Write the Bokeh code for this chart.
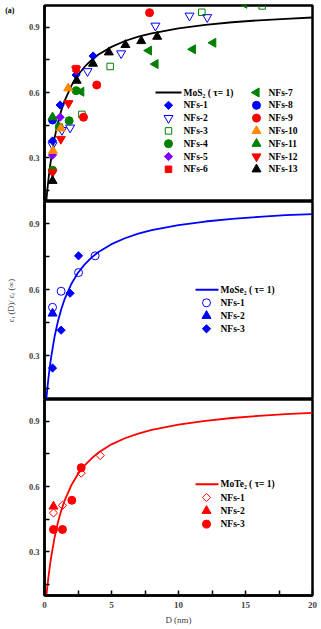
import numpy as np
from bokeh.plotting import figure
from bokeh.layouts import column
from bokeh.models import FixedTicker, LinearAxis, Range1d
from bokeh.core.properties import value
from bokeh.embed import file_html
from bokeh.resources import INLINE

# ---------------- data ----------------
y_ticks = [0.15, 0.3, 0.45, 0.6, 0.75, 0.9]
y_tick_labels = ["", "0.3", "", "0.6", "", "0.9"]
x_ticks = [0, 2.5, 5, 7.5, 10, 12.5, 15, 17.5, 20]
x_tick_labels = ["0", "", "5", "", "10", "", "15", "", "20"]

curve_D = [0.0, 0.1, 0.2, 0.3, 0.4, 0.5, 0.75, 1.0, 1.25, 1.5, 2.0, 2.5, 3.0, 3.5,
           4.0, 5.0, 6.0, 7.0, 8.0, 10.0, 12.0, 14.0, 16.0, 18.0, 20.0]
mos2_curve = [0.0, 0.079, 0.146, 0.204, 0.255, 0.299, 0.391, 0.461, 0.517, 0.562, 0.631,
              0.681, 0.719, 0.749, 0.774, 0.810, 0.837, 0.857, 0.872, 0.895, 0.911,
              0.923, 0.932, 0.939, 0.945]
mose2_curve = [0.0, 0.077, 0.143, 0.200, 0.250, 0.294, 0.385, 0.455, 0.510, 0.556, 0.625,
               0.676, 0.714, 0.745, 0.769, 0.806, 0.833, 0.854, 0.870, 0.893, 0.909,
               0.921, 0.930, 0.938, 0.943]
mote2_curve = [0.0, 0.071, 0.133, 0.188, 0.235, 0.278, 0.366, 0.435, 0.490, 0.536, 0.606,
               0.658, 0.698, 0.729, 0.755, 0.794, 0.822, 0.843, 0.860, 0.885, 0.902,
               0.915, 0.925, 0.933, 0.939]

# MoS2 panel
nfs1_D = [0.6, 1.17, 2.36, 3.63];  nfs1_v = [0.378, 0.543, 0.681, 0.768]
nfs2_D = [0.6, 1.3, 1.91, 3.21, 5.72, 8.28, 10.82, 12.14]
nfs2_v = [0.36, 0.428, 0.439, 0.698, 0.78, 0.907, 0.953, 0.946]
nfs3_D = [2.79, 4.9, 11.74, 16.24];  nfs3_v = [0.50, 0.72, 0.969, 0.998]
nfs4_D = [0.6, 1.1, 1.84, 2.36];  nfs4_v = [0.244, 0.443, 0.471, 0.609]
nfs5_D = [0.6, 1.17];  nfs5_v = [0.313, 0.487]
nfs6_D = [2.36];  nfs6_v = [0.71]
nfs7_D = [2.74, 7.79, 8.28, 11.07, 12.59, 14.9]
nfs7_v = [0.604, 0.793, 0.731, 0.799, 0.829, 1.008]
nfs8_D = [0.6];  nfs8_v = [0.474]
nfs9_D = [2.91, 3.9, 7.84];  nfs9_v = [0.487, 0.635, 0.967]
nfs10_D = [0.63, 1.22, 1.77];  nfs10_v = [0.333, 0.436, 0.62]
nfs11_D = [0.6];  nfs11_v = [0.487]
nfs12_D = [0.6, 1.22, 1.79, 2.36];  nfs12_v = [0.234, 0.387, 0.551, 0.707]
nfs13_D = [0.6, 2.4, 3.62, 4.8, 6.04, 7.22, 8.41]
nfs13_v = [0.195, 0.655, 0.733, 0.785, 0.819, 0.837, 0.857]

# MoSe2 panel
se1_D = [0.6, 1.24, 2.54, 3.78];  se1_v = [0.519, 0.592, 0.677, 0.753]
se2_D = [0.6];  se2_v = [0.491]
se3_D = [0.6, 1.24, 1.91, 2.54];  se3_v = [0.243, 0.415, 0.583, 0.753]

# MoTe2 panel
te1_D = [0.67, 1.34, 2.74, 4.16];  te1_v = [0.479, 0.514, 0.662, 0.743]
te2_D = [0.67];  te2_v = [0.509]
te3_D = [0.67, 1.34, 2.04, 2.74];  te3_v = [0.403, 0.403, 0.537, 0.687]

# ---------------- styling ----------------
FONT = "Liberation Serif"
BLUE, GREEN, RED = "#0000FF", "#008000", "#FF0000"
ORANGE, PURPLE, BLACK = "#FF8800", "#8000FF", "#000000"

MK = {
    "diamond": ("square", 5.8, np.pi / 4),
    "circle": ("circle", 8, 0.0),
    "triangle": ("triangle", 9, 0.0),
    "inv": ("inverted_triangle", 9, 0.0),
    "left": ("triangle", 9, np.pi / 2),
    "square": ("square", 6.5, 0.0),
}

# frame geometry in screen pixels (for placing legend entries)
FRAME_L, FRAME_R = 44, 312
X0, X1, Y0, Y1 = 0.0, 20.0, 0.1, 1.0
x_range = Range1d(X0, X1)


def to_data(px, py, ftop, fh):
    return (X0 + (px - FRAME_L) / (FRAME_R - FRAME_L) * (X1 - X0),
            Y1 - (py - ftop) / fh * (Y1 - Y0))


def make_fig(height, top, bottom, show_x):
    p = figure(width=321, height=height, x_range=x_range, y_range=Range1d(Y0, Y1),
               output_backend="svg", toolbar_location=None,
               x_axis_location="below" if show_x else None,
               min_border_left=44, min_border_right=9,
               min_border_top=top, min_border_bottom=bottom)
    p.grid.visible = False
    p.outline_line_color = "black"
    p.outline_line_width = 2.5
    p.outline_line_alpha = 1.0
    ya = p.yaxis[0]
    ya.ticker = FixedTicker(ticks=y_ticks)
    ya.major_label_overrides = {t: l for t, l in zip(y_ticks, y_tick_labels)}
    ya.major_tick_in = 5
    ya.major_tick_out = 0
    ya.minor_tick_in = 0
    ya.minor_tick_out = 0
    ya.major_tick_line_width = 1.5
    ya.axis_line_width = 2.5
    ya.major_label_standoff = 5
    ya.major_label_text_font = FONT
    ya.major_label_text_font_size = "8.5px"
    ya.major_label_text_font_style = "bold"
    if show_x:
        xa = p.xaxis[0]
        xa.ticker = FixedTicker(ticks=x_ticks)
        xa.major_label_overrides = {t: l for t, l in zip(x_ticks, x_tick_labels)}
        xa.major_tick_in = 5
        xa.major_tick_out = 0
        xa.minor_tick_in = 0
        xa.minor_tick_out = 0
        xa.major_tick_line_width = 1.5
        xa.axis_line_width = 2.5
        xa.major_label_standoff = 6
        xa.major_label_text_font = FONT
        xa.major_label_text_font_size = "9px"
        xa.major_label_text_font_style = "bold"
        xa.axis_label = "D (nm)"
        xa.axis_label_text_font = FONT
        xa.axis_label_text_font_size = "9px"
        xa.axis_label_text_font_style = "normal"
        xa.axis_label_standoff = 4
    return p


def add_series(p, D, v, kind, color, filled):
    marker, size, angle = MK[kind]
    return p.scatter(D, v, marker=marker, size=size, angle=angle,
                     fill_color=color if filled else "white",
                     fill_alpha=1.0 if filled else 0.0,
                     line_color=color, line_width=1.0)


def add_legend(p, ftop, fh, line_label, line_color, entries,
               line_x0, line_x1, marker_x, text_x, row0, row_h):
    """Draw a legend column: optional line entry then marker entries."""
    rows = []
    if line_label is not None:
        rows.append(("line", line_label, line_color))
    rows += [("mk", e) for e in entries]
    k = 0
    for row in rows:
        py = row0 + k * row_h
        if row[0] == "line":
            xa, ya_ = to_data(line_x0, py, ftop, fh)
            xb, _ = to_data(line_x1, py, ftop, fh)
            p.line([xa, xb], [ya_, ya_], line_color=row[2], line_width=2)
            label = row[1]
        else:
            name, D, v, kind, color, filled = row[1]
            mx, my = to_data(marker_x, py, ftop, fh)
            add_series(p, [mx], [my], kind, color, filled)
            label = name
        tx, ty = to_data(text_x, py, ftop, fh)
        p.text([tx], [ty], text=[label], text_font=value(FONT),
               text_font_size=value("9.5px"), text_font_style="bold",
               text_color="black", text_baseline="middle", text_align="left")
        k += 1


# ---------------- top panel: MoS2 ----------------
TOP_T, TOP_H = 5, 196
p1 = make_fig(201, TOP_T, 0, False)
p1.line(curve_D, mos2_curve, line_color=BLACK, line_width=1.8)
top_series = [
    ("NFs-1", nfs1_D, nfs1_v, "diamond", BLUE, True),
    ("NFs-2", nfs2_D, nfs2_v, "inv", BLUE, False),
    ("NFs-3", nfs3_D, nfs3_v, "square", GREEN, False),
    ("NFs-4", nfs4_D, nfs4_v, "circle", GREEN, True),
    ("NFs-5", nfs5_D, nfs5_v, "diamond", PURPLE, True),
    ("NFs-6", nfs6_D, nfs6_v, "square", RED, True),
    ("NFs-7", nfs7_D, nfs7_v, "left", GREEN, True),
    ("NFs-8", nfs8_D, nfs8_v, "circle", BLUE, True),
    ("NFs-9", nfs9_D, nfs9_v, "circle", RED, True),
    ("NFs-10", nfs10_D, nfs10_v, "triangle", ORANGE, True),
    ("NFs-11", nfs11_D, nfs11_v, "triangle", GREEN, True),
    ("NFs-12", nfs12_D, nfs12_v, "inv", RED, True),
    ("NFs-13", nfs13_D, nfs13_v, "triangle", BLACK, True),
]
for name, D, v, kind, color, filled in top_series:
    add_series(p1, D, v, kind, color, filled)
add_legend(p1, TOP_T, TOP_H, "MoS₂ ( τ= 1)", BLACK, top_series[:6],
           155, 181, 168, 183, 92, 12.8)
add_legend(p1, TOP_T, TOP_H, None, None, top_series[6:],
           0, 0, 256, 268, 92, 12.8)
# panel tag "(a)" as an outer, line-less left axis
tag_axis = LinearAxis(ticker=FixedTicker(ticks=[0.975]),
                      major_label_overrides={0.975: "(a)"},
                      axis_line_alpha=0, major_tick_line_alpha=0,
                      major_tick_in=0, major_tick_out=0,
                      minor_tick_in=0, minor_tick_out=0,
                      major_label_standoff=11,
                      major_label_text_font=FONT,
                      major_label_text_font_size="8px",
                      major_label_text_font_style="bold",
                      major_label_text_color="black")
p1.add_layout(tag_axis, "left")

# ---------------- middle panel: MoSe2 ----------------
MID_T, MID_H = 0, 198
p2 = make_fig(198, 0, 0, False)
p2.yaxis[0].axis_label = "εᵣ (D)/ εᵣ (∞)"
p2.yaxis[0].axis_label_text_font = FONT
p2.yaxis[0].axis_label_text_font_size = "8.5px"
p2.yaxis[0].axis_label_text_font_style = "normal"
p2.yaxis[0].axis_label_standoff = 10
p2.line(curve_D, mose2_curve, line_color=BLUE, line_width=1.8)
mid_series = [
    ("NFs-1", se1_D, se1_v, "circle", BLUE, False),
    ("NFs-2", se2_D, se2_v, "triangle", BLUE, True),
    ("NFs-3", se3_D, se3_v, "diamond", BLUE, True),
]
for name, D, v, kind, color, filled in mid_series:
    add_series(p2, D, v, kind, color, filled)
add_legend(p2, MID_T, MID_H, "MoSe₂ ( τ= 1)", BLUE, mid_series,
           195, 218, 206, 220, 88.3, 13)

# ---------------- bottom panel: MoTe2 ----------------
BOT_T, BOT_H = 0, 196
p3 = make_fig(230, 0, 34, True)
p3.line(curve_D, mote2_curve, line_color=RED, line_width=1.8)
bot_series = [
    ("NFs-1", te1_D, te1_v, "diamond", RED, False),
    ("NFs-2", te2_D, te2_v, "triangle", RED, True),
    ("NFs-3", te3_D, te3_v, "circle", RED, True),
]
for name, D, v, kind, color, filled in bot_series:
    add_series(p3, D, v, kind, color, filled)
add_legend(p3, BOT_T, BOT_H, "MoTe₂ ( τ= 1)", RED, bot_series,
           195, 218, 206, 220, 84.7, 13.3)

layout = column(p1, p2, p3, spacing=0)
open("out.html", "w").write(file_html(layout, INLINE))
